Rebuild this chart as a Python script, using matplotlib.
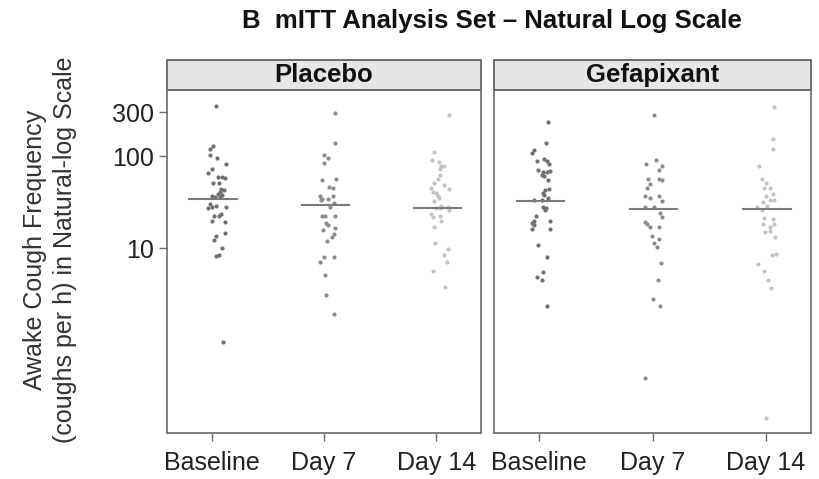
import matplotlib
matplotlib.use("Agg")
import matplotlib.pyplot as plt
from matplotlib.patches import Rectangle
import numpy as np

plt.rcParams['font.family'] = ['Liberation Sans', 'DejaVu Sans']

visits = ["Baseline", "Day 7", "Day 14"]
arms = ["Placebo", "Gefapixant"]
visit_colors = ["#6f6f6f", "#8c8c8c", "#c4c4c4"]

# awake cough frequency (coughs per h) per subject, with horizontal jitter
pbo_base = [348, 129, 120, 104, 96, 82, 73, 66, 60, 59, 58, 51, 51, 44, 43, 41, 39, 37.5, 37,
            35.7, 35.7, 30, 28.8, 28.3, 27.8, 27.1, 23.5, 22.4, 22.4, 19.8, 19.3, 14.8, 13.6,
            12.3, 10.2, 8.3, 8.5, 0.97]
pbo_base_jit = [0.036, 0.006, -0.021, -0.021, 0.045, 0.125, -0.003, -0.033, 0.054, 0.089, 0.113,
                0.009, 0.060, 0.083, 0.104, 0.077, 0.054, 0.089, 0.0, 0.030, 0.074, -0.015, 0.039,
                0.0, 0.125, -0.030, 0.083, 0.015, 0.065, 0.0, 0.113, 0.119, 0.039, 0.021, 0.089,
                0.036, 0.068, 0.095]

pbo_d7 = [290, 140, 103, 96, 85, 56, 55, 46, 45, 37, 37, 34.5, 34.5, 33.4, 31.3, 28, 22.4, 22.4,
          22.4, 19, 17.9, 16, 16.7, 14.3, 13.4, 12.1, 8.0, 8.0, 7.2, 5.1, 3.1, 1.95]
pbo_d7_jit = [0.095, 0.095, -0.004, 0.032, -0.004, 0.107, -0.015, 0.042, 0.078, -0.033, 0.078,
              -0.018, 0.036, -0.024, 0.093, 0.057, -0.018, 0.011, 0.100, 0.020, 0.033, -0.011,
              0.100, 0.085, 0.069, 0.024, 0.004, 0.085, -0.036, 0.006, 0.021, 0.085]

pbo_d14 = [282, 111, 90, 87, 79, 78, 72, 62, 57, 51, 49, 45, 43.5, 41, 39.5, 37, 34.8, 32.8,
           28.8, 28.3, 27.1, 27.1, 26, 23.5, 22.4, 22, 19.9, 16.9, 11.3, 9.9, 8.5, 7.2, 5.7, 3.8]
pbo_d14_jit = [0.113, -0.015, -0.039, 0.024, 0.068, 0.045, 0.036, 0.030, 0.015, -0.015, 0.074,
               -0.045, 0.119, -0.030, 0.0, 0.015, 0.024, -0.021, 0.045, 0.105, 0.0, 0.030, 0.113,
               -0.045, 0.036, -0.030, 0.045, -0.015, -0.006, 0.104, 0.068, 0.095, -0.030, 0.083]

gef_base = [235, 140, 116, 109, 94, 89, 89, 82, 71, 69, 68, 68, 62, 61, 55, 44, 43, 39.5, 37.8,
            34.8, 33.4, 33.4, 28.3, 27.1, 26, 22.4, 19.9, 19.9, 18.7, 17.9, 16.1, 16.1, 10.8,
            8.0, 5.5, 4.9, 4.5, 2.4]
gef_base_jit = [0.080, 0.060, -0.045, -0.060, 0.039, -0.024, 0.065, 0.083, -0.015, 0.095, 0.030,
                0.065, 0.024, 0.045, 0.074, 0.083, 0.054, 0.030, 0.045, 0.074, -0.045, 0.024,
                0.030, 0.060, 0.054, -0.030, -0.045, 0.095, -0.060, -0.045, -0.060, 0.095, -0.015,
                0.068, 0.036, -0.024, 0.021, 0.068]

gef_d7 = [282, 90, 82, 78, 70, 57, 57, 55, 50, 44.7, 37, 37, 34.8, 32.6, 27.9, 27.9, 23.9, 22,
          19.5, 18.4, 16.9, 16.9, 13.6, 12.6, 11.5, 10.4, 6.9, 4.6, 2.8, 2.4, 0.39]
gef_d7_jit = [0.009, 0.030, -0.059, 0.084, 0.054, -0.041, 0.054, 0.084, -0.021, -0.050, -0.065,
              0.054, -0.021, 0.084, -0.065, 0.009, 0.063, 0.084, -0.065, -0.050, -0.021, 0.054,
              -0.006, 0.054, 0.009, 0.039, 0.074, 0.048, 0.006, 0.063, -0.065]

gef_d14 = [343, 153, 118, 78, 57, 51, 45.4, 44.7, 38.8, 37, 33.4, 33.4, 32, 28.8, 28.3, 26,
           21.1, 20.6, 18.4, 18.4, 17.2, 15.6, 14.9, 13.4, 8.6, 8.5, 6.8, 5.7, 4.6, 3.7, 0.146]
gef_d14_jit = [0.074, 0.060, 0.068, -0.060, -0.030, 0.0, 0.036, -0.012, 0.065, 0.0, 0.036,
               0.071, -0.021, 0.015, -0.074, -0.030, -0.015, 0.060, -0.024, 0.074, 0.036, 0.042,
               -0.006, 0.080, 0.089, 0.054, -0.065, -0.015, 0.024, 0.045, 0.0]

medians = {"Placebo": [34.5, 29.7, 27.1], "Gefapixant": [32.6, 26.5, 26.5]}

data = {
    "Placebo": [(pbo_base, pbo_base_jit), (pbo_d7, pbo_d7_jit), (pbo_d14, pbo_d14_jit)],
    "Gefapixant": [(gef_base, gef_base_jit), (gef_d7, gef_d7_jit), (gef_d14, gef_d14_jit)],
}

fig = plt.figure(figsize=(8.2, 4.79), dpi=100)
W, H = 820, 479
panels = [(167, 314), (494, 317)]
ax_top, ax_bot = 90, 433
strip_h = 30

axes = []
for (left, width), arm in zip(panels, arms):
    ax = fig.add_axes([left / W, 1 - ax_bot / H, width / W, (ax_bot - ax_top) / H])
    axes.append(ax)
    for i, (vals, jit) in enumerate(data[arm]):
        xs = (i + 1) + np.array(jit)
        ax.scatter(xs, vals, s=9, color=visit_colors[i], linewidths=0, zorder=3)
        ax.plot([i + 1 - 0.2, i + 1 + 0.22], [medians[arm][i]] * 2,
                color="#7a7a7a", lw=1.5, zorder=4)
    ax.set_yscale("log")
    ax.set_ylim(0.1, 520)
    ax.set_xlim(0.6, 3.4)
    ax.set_xticks([1, 2, 3])
    ax.set_xticklabels(visits, fontsize=18, color="#222222")
    ax.minorticks_off()
    for sp in ax.spines.values():
        sp.set_color("#6a6a6a")
        sp.set_linewidth(1.2)
    ax.tick_params(axis="both", color="#6a6a6a", length=6, width=1, pad=3)
    ax.tick_params(axis="x", pad=7)
    # facet strip on top of each panel
    hfrac = strip_h / (ax_bot - ax_top)
    ax.add_patch(Rectangle((0, 1), 1, hfrac, transform=ax.transAxes, clip_on=False,
                           facecolor="#e6e6e6", edgecolor="#555555", lw=1.2))
    ax.text(0.5, 1 + hfrac / 2, arm, transform=ax.transAxes, ha="center", va="center",
            fontsize=18.5, fontweight="bold", color="#111111")

axes[0].set_yticks([10, 100, 300])
axes[0].set_yticklabels(["10", "100", "300"], fontsize=18, color="#222222")
axes[1].set_yticks([10, 100, 300])
axes[1].tick_params(axis="y", left=False, labelleft=False)

fig.text(50 / W, 1 - 250 / H, "Awake Cough Frequency\n(coughs per h) in Natural-log Scale",
         rotation=90, ha="center", va="center", fontsize=18, color="#333333", linespacing=1.3)
fig.text(492 / W, 1 - 21 / H, "B  mITT Analysis Set \u2013 Natural Log Scale",
         ha="center", va="center", fontsize=18.5, fontweight="bold", color="#111111")

fig.savefig("out.png", dpi=100)
